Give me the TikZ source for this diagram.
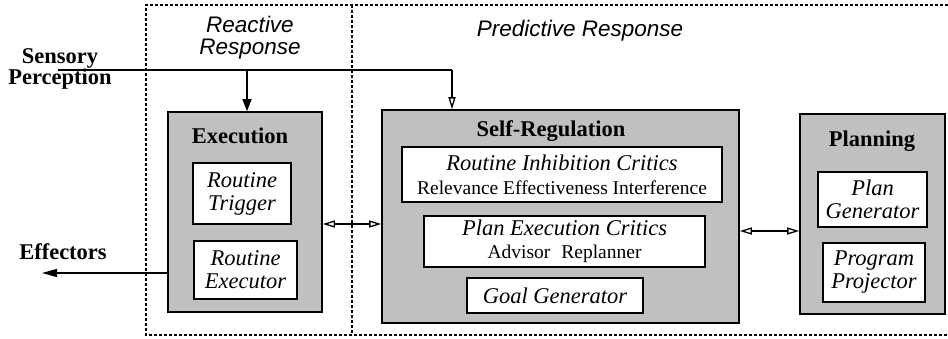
\documentclass[tikz,border=0pt]{standalone}
\usepackage{fontspec}
\setmainfont{Liberation Serif}
\setsansfont{Liberation Sans}
\usetikzlibrary{arrows.meta}
\definecolor{boxgray}{RGB}{192,192,192}
\newcommand{\plainline}{\fontsize{19.5}{23}\selectfont\upshape}
\tikzset{
  module/.style={draw, line width=1.6pt, fill=boxgray, inner sep=0pt},
  part/.style={draw, line width=1.4pt, fill=white, align=center, inner sep=0pt,
    font=\fontsize{22.5}{23}\selectfont\itshape},
  title/.style={font=\fontsize{22.5}{23}\selectfont\bfseries},
  label/.style={font=\fontsize{22.5}{21.5}\selectfont\bfseries, align=center},
  region/.style={font=\fontsize{22.5}{22}\selectfont\sffamily\itshape, align=center},
  zone/.style={line width=1.1pt, dash pattern=on 3pt off 2pt},
  link/.style={line width=1.3pt},
  fillhead/.style={-{Triangle[length=12pt,width=9pt]}},
  outhead/.style={-{Triangle[length=15pt,width=8pt]}},
  openhead/.style={-{Triangle[open,length=12pt,width=7pt]}},
  bothopen/.style={{Triangle[open,length=12pt,width=7pt]}-{Triangle[open,length=12pt,width=7pt]}}
}
\begin{document}
\begin{tikzpicture}[x=1pt,y=-1pt]
\useasboundingbox (0,0) rectangle (948,338);

% response regions
\draw[zone] (948,5) -- (146,5) -- (146,335) -- (948,335);
\draw[zone] (352,5) -- (352,335);
\node[region] (reactive) at (250,38) {Reactive\\Response};
\node[region] (predictive) at (580,31) {Predictive Response};

% modules
\node[module, minimum width=154pt, minimum height=200pt] (exec) at (245,212) {};
\node[title] (exectitle) at (240,136) {Execution};
\node[part, minimum width=98pt, minimum height=61pt] (trigger) at (242,193.5) {Routine\\Trigger};
\node[part, minimum width=103pt, minimum height=58pt] (executor) at (245.5,270) {Routine\\Executor};

\node[module, minimum width=357pt, minimum height=213pt] (selfreg) at (560.5,216.5) {};
\node[title] (selftitle) at (551,131.5) {Self-Regulation};
\node[part, minimum width=320pt, minimum height=55pt] (inhibit) at (562,174.5)
  {Routine Inhibition Critics\\[1pt]{\plainline Relevance Effectiveness Interference}};
\node[part, minimum width=281pt, minimum height=51pt] (planexec) at (564.5,241.5)
  {Plan Execution Critics\\{\plainline Advisor\hspace{11pt}Replanner}};
\node[part, minimum width=176pt, minimum height=35pt] (goal) at (555,295.5) {Goal Generator};

\node[module, minimum width=145pt, minimum height=200pt] (planning) at (872.5,214) {};
\node[title] (plantitle) at (872,141.5) {Planning};
\node[part, minimum width=109pt, minimum height=55pt] (plangen) at (872.5,199.5) {Plan\\Generator};
\node[part, minimum width=102pt, minimum height=59pt] (projector) at (874,272.5) {Program\\Projector};

% external labels
\node[label] (sensory) at (60,69) {Sensory\\Perception};
\node[label] (effectors) at (63,252) {Effectors};
\coordinate (sensein) at (58,70);
\coordinate (branch) at (247,70);
\coordinate (corner) at (452,70);
\coordinate (effout) at (42,273);

% connectors
\draw[link] (sensein) -- (corner);
\draw[link, fillhead] (branch) -- (branch |- exec.north);
\draw[link, openhead] (corner) -- (corner |- selfreg.north);
\draw[link, outhead] (exec.west |- effout) -- (effout);
\draw[link, bothopen] (exec.east |- 0,224) -- (selfreg.west |- 0,224);
\draw[link, bothopen] (selfreg.east |- 0,231) -- (planning.west |- 0,231);
\end{tikzpicture}
\end{document}
